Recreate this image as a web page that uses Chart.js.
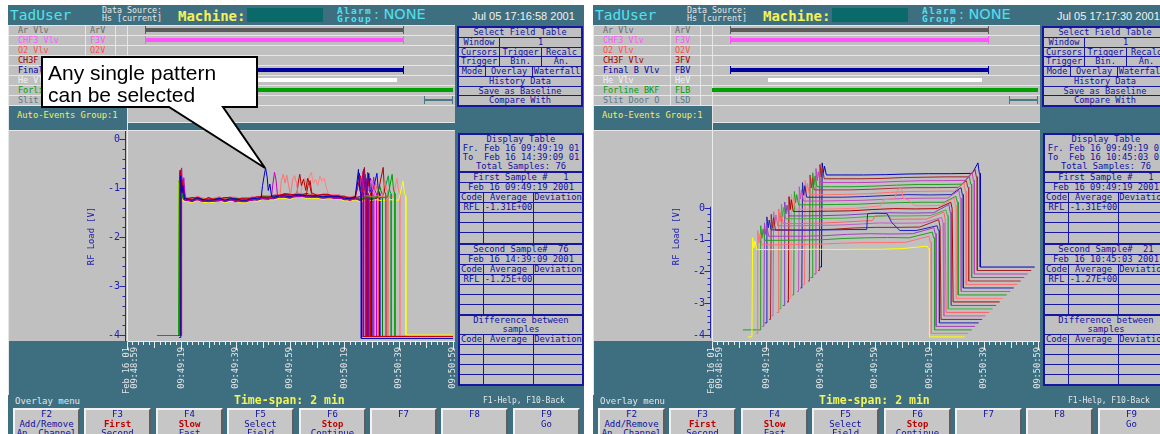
<!DOCTYPE html>
<html>
<head>
<meta charset="utf-8">
<title>RF Load – overlay and waterfall views</title>
<script src="https://cdn.jsdelivr.net/npm/chart.js@4.4.1/dist/chart.umd.min.js"></script>
<style>
  html, body { margin:0; padding:0; background:#ffffff; }
  body { position:relative; width:1160px; height:434px; overflow:hidden; }
  .panel { position:absolute; top:5px; width:576px; height:429px; background:#3e6f80; overflow:hidden;
           font-family:"DejaVu Sans Mono", monospace; }
  .a { position:absolute; white-space:pre; line-height:1; }
  .ln { position:absolute; background:#e6e6e6; }
  .chan { position:absolute; left:1px; width:446px; height:10px; background:#c0c0c0;
          border-top:1px solid #e6e6e6; box-sizing:border-box; }
  .chan span { position:absolute; top:0; font-size:8.5px; line-height:9px; white-space:pre; }
  .bar { position:absolute; }
  .tbl { position:absolute; background:#c0c0c0; border:2px solid #1616a0; box-sizing:border-box;
         color:#1212a0; font-size:8.8px; display:flex; flex-direction:column; }
  .r { display:flex; flex:1 1 0; border-top:1px solid #1616a0; min-height:0; }
  .r:first-child, .r.nb { border-top:none; }
  .r.sec { border-top:2px solid #1616a0; }
  .c { flex:none; border-left:1px solid #1616a0; white-space:pre; overflow:hidden;
       display:flex; align-items:center; justify-content:center; line-height:1; }
  .c:first-child { border-left:none; }
  .c.f { flex:1 1 0; }
  .btn { position:absolute; top:403px; width:67px; height:30px; background:#c6c6c6; box-sizing:border-box;
         border-top:2px solid #f2f2f2; border-left:2px solid #f2f2f2; border-right:2px solid #5e5e5e;
         border-bottom:2px solid #5e5e5e; text-align:center; font-size:9px; line-height:9.6px;
         color:#1010a0; white-space:pre; padding-top:0; }
  .btn b { color:#c00000; }
  canvas { position:absolute; }
</style>
</head>
<body>
<div id="root"></div>
<svg style="position:absolute;left:0;top:0" width="1160" height="434">
  <path d="M42 57 H257 V107 H223 L265 168 L169 107 H42 Z" fill="#ffffff" stroke="#000000" stroke-width="2" stroke-linejoin="miter"/>
  <text x="48" y="80" font-family="Liberation Sans, Arial, sans-serif" font-size="21" fill="#000">Any single pattern</text>
  <text x="48" y="102" font-family="Liberation Sans, Arial, sans-serif" font-size="21" fill="#000">can be selected</text>
</svg>
<script>
// ---------- axes ----------
const xTickValues = [0, 20, 40, 60, 80, 100, 120];   // seconds after 09:48:59
const xTickLabels = [["Feb 16 01", "09:48:59"], "09:49:19", "09:49:39", "09:49:59", "09:50:19", "09:50:39", "09:50:59"];
const yTickValues = [0, -1, -2, -3, -4];
const yTickLabels = ["0", "-1", "-2", "-3", "-4"];

// ---------- overlay view: RF load traces ----------
const overlayColors = ['#0000c8','#c80000','#00a000','#c000c0','#ff7070','#a00040','#8000a0','#0000a0',
                       '#c00060','#008000','#e060e0','#b00000','#ffff00','#2040ff','#ff5050','#a040c0',
                       '#d00000','#00a040','#8000c0','#ff8080','#0000ff','#900030','#c000c0','#0000c0'];
const overlayStart    = [19.2,18.9,11.0,19.5,19.0,19.1,19.3,18.8,19.4,18.7,19.2,19.0,18.4,19.1,19.5,18.9,19.3,18.8,19.2,18.6,19.4,19.0,19.1,19.3];
const overlayRise     = [19.6,19.3,19.0,19.9,19.4,19.5,19.7,19.2,19.8,19.1,19.6,19.4,18.8,19.5,19.9,19.3,19.7,19.2,19.6,19.0,19.8,19.4,19.5,19.7];
const overlayRisePeak = [-0.75,-0.68,-0.85,-0.59,-0.80,-0.70,-0.66,-0.78,-0.72,-0.90,-0.74,-0.63,-0.88,-0.70,-0.82,-0.64,-0.70,-0.86,-0.70,-0.90,-0.76,-0.67,-0.74,-0.80];
const overlayLevel    = [0.00,0.02,0.01,-0.02,0.03,0.00,-0.03,0.02,0.01,-0.01,0.03,-0.02,-0.05,0.00,0.02,-0.01,0.01,0.00,-0.02,0.02,0.01,-0.01,0.00,0.01];
const overlayFall     = [86.2,87.0,98.6,87.6,96.0,88.4,89.0,90.0,87.9,94.0,91.0,95.3,102.6,88.7,92.5,86.8,89.6,97.2,90.6,100.4,93.0,88.1,91.8,86.5];
const overlayFallPeak = [-0.62,-0.75,-0.72,-0.80,-0.85,-0.58,-0.80,-0.70,-0.66,-0.95,-0.82,-0.58,-0.86,-0.72,-0.90,-0.76,-0.68,-0.75,-0.80,-0.80,-0.70,-0.62,-0.78,-0.70];
const overlayLow      = [-4.07,-4.03,-4.03,-4.03,-4.03,-4.03,-4.03,-4.03,-4.03,-4.03,-4.03,-4.03,-4.00,-4.03,-4.03,-4.03,-4.03,-4.03,-4.03,-4.03,-4.03,-4.03,-4.03,-4.03];
const overlayTexture  = [0,1,0,1,0,1,0,1,0,1,0,1,0,1,0,1,0,1,0,1,0,1,0,1];

// shared plateau level of the RF load while the plasma is on
const plateauT = [22,24,26,28,30,32,34,36,38,40,42,44,46,48,50,52,54,56,58,60,62,64,66,68,70,72,74,76,78,80,82,84,86,88,90,92,94,96,98,100,102];
const plateauV = [-1.23,-1.24,-1.22,-1.24,-1.23,-1.25,-1.23,-1.24,-1.22,-1.24,-1.23,-1.25,-1.22,-1.21,-1.20,-1.19,-1.18,-1.17,-1.16,-1.16,-1.15,
                  -1.16,-1.15,-1.16,-1.17,-1.16,-1.17,-1.18,-1.19,-1.20,-1.21,-1.20,-1.21,-1.20,-1.20,-1.21,-1.20,-1.19,-1.20,-1.19,-1.20];
const textureA = [0.01,-0.01,0.02,0,-0.02,0.01,0.02,-0.01,0,0.02,-0.02,0,0.01,-0.01,0.02,0,-0.01,0.01,0,-0.02,0.01,
                  0.02,-0.01,0,0.01,-0.02,0,0.01,0.02,-0.01,0,0.01,-0.02,0.01,0,0.02,-0.01,0,0.01,-0.01,0];
const textureB = [-0.01,0.02,0,-0.02,0.01,0,-0.01,0.02,0.01,-0.02,0,0.02,-0.01,0.01,0,-0.02,0.01,0,0.02,0.01,-0.01,
                  0,0.02,-0.01,0,0.01,0.02,-0.01,0,0.01,-0.02,0,0.01,0,-0.01,0.02,0,-0.02,0.01,0,0.01];

// excursions on individual samples
const bumpBlue    = [[49.4,-1.19],[49.9,-0.95],[50.4,-0.78],[51.0,-0.59],[51.6,-0.78],[52.0,-1.05],[52.6,-0.92],[53.2,-1.17]];
const bumpRedA    = [[66.0,-1.15],[66.6,-0.95],[67.4,-0.85],[68.0,-1.10]];
const bumpMagenta = [[53.2,-1.18],[53.7,-0.92],[54.3,-0.68],[54.9,-0.85],[55.4,-1.16]];
const bumpSalmonA = [[56.3,-1.17],[56.8,-0.85],[57.5,-0.72],[58.2,-0.90],[58.8,-0.74],[59.5,-0.95],[60.2,-1.15],[61.0,-0.82],[61.7,-0.75],[62.4,-0.90],[63.0,-1.14]];
const bumpRedB    = [[62.5,-1.15],[63.0,-0.90],[63.6,-0.72],[64.2,-0.95],[65.0,-0.82],[65.8,-1.05],[66.5,-0.80],[67.2,-0.92],[68.0,-1.14]];
const bumpSalmonB = [[64.0,-1.15],[64.6,-0.85],[65.4,-0.80],[66.2,-0.95],[67.0,-0.78],[67.8,-0.68],[68.6,-0.90],[69.4,-0.82],[70.2,-0.95],[71.0,-0.76],[71.8,-0.86],[72.6,-0.80],[73.4,-1.00],[74.2,-1.13]];
const overlayBumps = { 0: bumpBlue, 1: bumpRedA, 3: bumpMagenta, 4: bumpSalmonA, 11: bumpRedB, 19: bumpSalmonB };

// ---------- waterfall view: samples 1..21, front to back ----------
const waterfallColors = ['#ffff00','#ff7070','#20a020','#a040c0','#2020c0','#a02020','#c060c0','#ff6060','#40b040','#8040c0','#b00000',
                         '#ff8080','#20a020','#c050c0','#2020b0','#ff7070','#b03030','#20a020','#c040c0','#a02020','#0000c0'];
const waterfallStart    = [13.2,15.0,8.8,14.7,14.3,14.6,14.2,14.8,14.5,14.4,14.7,14.3,14.1,14.6,14.5,14.2,14.7,14.4,14.3,14.5,14.0];
const waterfallRise     = [14.7,15.3,15.1,15.2,14.8,15.1,14.7,15.3,15.0,14.9,15.2,14.8,14.6,15.1,15.0,14.7,15.2,14.9,14.8,15.0,14.5];
const waterfallRisePeak = [-0.94,-0.82,-0.78,-0.80,-0.72,-0.75,-0.78,-0.80,-0.76,-0.80,-0.74,-0.77,-0.80,-0.76,-0.74,-0.78,-0.72,-0.76,-0.74,-0.72,-0.78];
const waterfallFall     = [80.0,79.4,79.3,78.6,78.5,77.8,77.6,77.1,76.6,76.4,75.8,75.7,75.1,74.9,74.4,74.2,73.8,73.6,73.3,73.1,72.9];
const waterfallFallPeak = [-1.20,-1.00,-0.98,-0.95,-1.00,-0.92,-0.96,-0.90,-0.94,-0.88,-0.92,-0.90,-0.95,-0.88,-0.90,-0.86,-0.90,-0.88,-0.85,-0.88,-0.78];
const waterfallEnd = 93;
const waterfallLow = -4.06;
const waterfallPlateauT = [22, 30, 38, 46, 54, 62, 70];
const waterfallPlateau = [
  [-1.31,-1.31,-1.30,-1.31,-1.30,-1.30,-1.28],
  [-1.27,-1.26,-1.25,-1.22,-1.20,-1.20,-1.19],
  [-1.24,-1.23,-1.22,-1.18,-1.16,-1.15,-1.16],
  [-1.22,-1.22,-1.20,-1.16,-1.14,-1.15,-1.14],
  [-1.13,-1.14,-1.13,-1.12,-1.14,-1.16,-1.15],
  [-1.25,-1.24,-1.22,-1.18,-1.16,-1.16,-1.15],
  [-1.22,-1.21,-1.20,-1.17,-1.13,-1.14,-1.13],
  [-1.26,-1.25,-1.22,-1.18,-1.14,-1.12,-1.12],
  [-1.22,-1.21,-1.20,-1.16,-1.13,-1.13,-1.12],
  [-1.24,-1.23,-1.21,-1.17,-1.14,-1.15,-1.14],
  [-1.21,-1.20,-1.19,-1.15,-1.12,-1.13,-1.12],
  [-1.25,-1.24,-1.22,-1.16,-1.12,-1.14,-1.13],
  [-1.22,-1.21,-1.20,-1.17,-1.15,-1.14,-1.14],
  [-1.21,-1.20,-1.19,-1.16,-1.13,-1.12,-1.12],
  [-1.20,-1.20,-1.18,-1.15,-1.12,-1.13,-1.12],
  [-1.23,-1.22,-1.20,-1.16,-1.13,-1.12,-1.12],
  [-1.19,-1.19,-1.17,-1.14,-1.12,-1.12,-1.11],
  [-1.20,-1.20,-1.18,-1.15,-1.13,-1.13,-1.12],
  [-1.18,-1.18,-1.17,-1.14,-1.12,-1.12,-1.11],
  [-1.17,-1.17,-1.16,-1.13,-1.12,-1.11,-1.11],
  [-1.16,-1.16,-1.15,-1.13,-1.12,-1.12,-1.11]
];
const wfBumpBlue    = [[51.8,-1.12],[52.1,-0.62],[55.0,-0.60],[59.3,-0.62],[61.0,-0.90],[64.0,-1.15]];
const wfBumpSalmonA = [[50.0,-1.17],[51.0,-1.02],[56.0,-1.00],[57.0,-1.13]];
const wfBumpSalmonB = [[48.0,-1.14],[49.0,-0.95],[53.0,-0.92],[54.2,-0.62],[55.5,-0.60],[56.2,-0.90],[58.0,-0.95],[60.0,-1.12]];
const waterfallBumps = { 4: wfBumpBlue, 7: wfBumpSalmonA, 11: wfBumpSalmonB };
// per-sample display shift of the waterfall (time, volts)
const WATERFALL_DX = 1.29;
const WATERFALL_DY = 0.11;

// ---------- screen text ----------
const channelNames  = ['Ar Vlv','CHF3 Vlv','O2 Vlv','CH3F Vlv','Final B Vlv','He Vlv','Forline BKF','Slit Door O'];
const channelCodes  = ['ArV','F3V','O2V','3FV','FBV','HeV','FLB','LSD'];
const channelColors = ['#686868','#ff55ff','#ff5050','#a00000','#0000a0','#f2f2f2','#00a000','#587888'];

const panels = [
  { left: 8, canvasId: 'overlayChart', date: 'Jul 05 17:16:58 2001',
    from: 'Fr. Feb 16 09:49:19 01', to: 'To  Feb 16 14:39:09 01', total: 'Total Samples: 76',
    first: 'First Sample #   1', firstDate: 'Feb 16 09:49:19 2001', firstAvg: '-1.31E+00',
    second: 'Second Sample#  76', secondDate: 'Feb 16 14:39:09 2001', secondAvg: '-1.25E+00' },
  { left: 593, canvasId: 'waterfallChart', date: 'Jul 05 17:17:30 2001',
    from: 'Fr. Feb 16 09:49:19 01', to: 'To  Feb 16 10:45:03 01', total: 'Total Samples: 76',
    first: 'First Sample #   1', firstDate: 'Feb 16 09:49:19 2001', firstAvg: '-1.31E+00',
    second: 'Second Sample#  21', secondDate: 'Feb 16 10:45:03 2001', secondAvg: '-1.27E+00' }
];

const buttons = [
  ['F2', 'Add/Remove', 'An. Channel'], ['F3', '<b>First</b>', 'Second'], ['F4', '<b>Slow</b>', 'Fast'],
  ['F5', 'Select', 'Field'], ['F6', '<b>Stop</b>', 'Continue'], ['F7'], ['F8'], ['F9', 'Go']
];

// ---------- screen layout ----------
function channelBarsHTML() {
  const rowTop = i => 20 + 10 * i;
  const b = (i, x0, x1, color, h, ticks) => {
    let s = `<div class="bar" style="left:${x0}px;top:${rowTop(i) + 5 - h / 2}px;width:${x1 - x0}px;height:${h}px;background:${color}"></div>`;
    ticks.forEach(tx => { s += `<div class="bar" style="left:${tx}px;top:${rowTop(i) + 1}px;width:1px;height:8px;background:${color}"></div>`; });
    return s;
  };
  return b(0, 137, 396, '#5a5a5a', 4, [137, 395]) +
         b(1, 137, 396, '#ff55ff', 4, [137, 395]) +
         b(4, 137, 396, '#0000a0', 4, [137, 395]) +
         b(5, 175, 389, '#ffffff', 4, []) +
         b(6, 119, 445, '#00a000', 4, []) +
         b(7, 416, 445, '#4a7888', 2, [416, 444]);
}

function selectTableHTML() {
  const cell = (w, t) => w ? `<div class="c" style="width:${w}px">${t}</div>` : `<div class="c f">${t}</div>`;
  return `<div class="tbl" style="left:449px;top:21px;width:126px;height:81px;font-size:8.6px">
    <div class="r">${cell(0, 'Select Field Table')}</div>
    <div class="r">${cell(40, 'Window')}${cell(0, '1')}</div>
    <div class="r">${cell(40, 'Cursors')}${cell(41, 'Trigger')}${cell(0, 'Recalc')}</div>
    <div class="r">${cell(40, 'Trigger')}${cell(41, 'Bin.')}${cell(0, 'An.')}</div>
    <div class="r">${cell(26, 'Mode')}${cell(46, 'Overlay')}${cell(0, 'Waterfall')}</div>
    <div class="r">${cell(0, 'History Data')}</div>
    <div class="r">${cell(0, 'Save as Baseline')}</div>
    <div class="r">${cell(0, 'Compare With')}</div>
  </div>`;
}

function displayTableHTML(p) {
  const full = (cls, t) => `<div class="r ${cls}"><div class="c f">${t}</div></div>`;
  const three = (cls, a, b, c) => `<div class="r ${cls}"><div class="c" style="width:23px">${a}</div><div class="c" style="width:49px">${b}</div><div class="c f">${c}</div></div>`;
  const empties = n => Array.from({ length: n }, () => three('', '', '', '')).join('');
  return `<div class="tbl" style="left:450px;top:128px;width:126px;height:253px">
    ${full('', 'Display Table')}${full('nb', p.from)}${full('nb', p.to)}${full('nb', p.total)}
    ${full('sec', p.first)}${full('', p.firstDate)}${three('', 'Code', 'Average', 'Deviation')}${three('', 'RFL', p.firstAvg, '')}${empties(3)}
    ${full('sec', p.second)}${full('', p.secondDate)}${three('', 'Code', 'Average', 'Deviation')}${three('', 'RFL', p.secondAvg, '')}${empties(3)}
    ${full('sec', 'Difference between')}${full('nb', 'samples')}${three('', 'Code', 'Average', 'Deviation')}${empties(4)}
  </div>`;
}

function panelHTML(p) {
  let h = `<div class="panel" style="left:${p.left}px">`;
  // header
  h += `<div class="a" style="left:2px;top:3px;font-size:14.5px;color:#4fe4ee">TadUser</div>`;
  h += `<div class="a" style="left:94px;top:2px;font-size:8.3px;line-height:7.5px;color:#e8e8e8">Data Source:\nHs [current]</div>`;
  h += `<div class="a" style="left:170px;top:4px;font-size:14px;font-weight:bold;color:#f2f25a">Machine:</div>`;
  h += `<div class="a" style="left:239px;top:3px;width:76px;height:14px;background:#0a6a6a"></div>`;
  h += `<div class="a" style="left:329px;top:2px;font-size:9.5px;font-weight:bold;line-height:7.5px;letter-spacing:1.3px;color:#50e0f0">Alarm\nGroup</div>`;
  h += `<div class="a" style="left:366px;top:2px;font-family:'DejaVu Sans',sans-serif;font-size:14.5px;color:#50e0f0">: NONE</div>`;
  h += `<div class="a" style="left:464px;top:6px;font-family:'Liberation Sans',sans-serif;font-size:11px;color:#f2f2f2">${p.date}</div>`;
  // channel rows
  channelNames.forEach((n, i) => {
    h += `<div class="chan" style="top:${20 + 10 * i}px"><span style="left:9px;color:${channelColors[i]}">${n}</span><span style="left:81px;color:${channelColors[i]}">${channelCodes[i]}</span></div>`;
  });
  h += `<div class="ln" style="left:1px;top:100px;width:446px;height:1px"></div>`;
  [77, 107, 119].forEach(x => { h += `<div class="ln" style="left:${x}px;top:20px;width:1px;height:81px"></div>`; });
  h += channelBarsHTML();
  // event strip
  h += `<div class="a" style="left:9px;top:106px;font-size:8.8px;color:#f0f060">Auto-Events Group:1</div>`;
  h += `<div class="a" style="left:120px;top:101px;width:327px;height:16px;background:#c0c0c0"></div>`;
  h += `<div class="ln" style="left:120px;top:117px;width:327px;height:1px"></div>`;
  h += `<div class="ln" style="left:119px;top:101px;width:1px;height:25px"></div>`;
  // plot background and frame
  h += `<div class="a" style="left:1px;top:126px;width:446px;height:210px;background:#c0c0c0"></div>`;
  h += `<div class="ln" style="left:1px;top:125px;width:446px;height:1px"></div>`;
  h += `<div class="ln" style="left:0px;top:20px;width:1px;height:370px"></div>`;
  h += `<canvas id="${p.canvasId}" width="375" height="264" style="left:77px;top:126px"></canvas>`;
  // side tables
  h += selectTableHTML() + displayTableHTML(p);
  // status line
  h += `<div class="a" style="left:7px;top:392px;font-size:9px;color:#e6e6e6">Overlay menu</div>`;
  h += `<div class="a" style="left:226px;top:390px;font-size:11.5px;font-weight:bold;color:#f2f25a">Time-span: 2 min</div>`;
  h += `<div class="a" style="left:475px;top:392px;font-size:8px;color:#e6e6e6">F1-Help, F10-Back</div>`;
  // function keys
  buttons.forEach((b, i) => {
    const left = 5 + Math.round(i * 71.4);
    h += `<div class="btn" style="left:${left}px">${b.join('\n')}</div>`;
  });
  h += `</div>`;
  return h;
}

document.getElementById('root').innerHTML = panels.map(panelHTML).join('');

// ---------- traces ----------
function overlayTrace(i) {
  const rise = overlayRise[i], fall = overlayFall[i], lvl = overlayLevel[i];
  const tex = overlayTexture[i] === 0 ? textureA : textureB;
  const bump = overlayBumps[i] || [];
  const pts = [
    { x: overlayStart[i], y: overlayLow[i] + 0.02 }, { x: rise, y: overlayLow[i] + 0.02 },
    { x: rise + 0.2, y: overlayRisePeak[i] }, { x: rise + 0.6, y: -1.10 + lvl },
    { x: rise + 1.0, y: overlayRisePeak[i] - 0.2 }, { x: rise + 1.6, y: -1.22 + lvl }
  ];
  const body = [];
  plateauT.forEach((t, j) => {
    if (t <= rise + 2 || t >= fall - 1.5) return;
    if (bump.length && t >= bump[0][0] && t <= bump[bump.length - 1][0]) return;
    body.push({ x: t, y: plateauV[j] + tex[j] + lvl });
  });
  bump.forEach(([t, v]) => body.push({ x: t, y: v }));
  body.sort((a, b) => a.x - b.x);
  return pts.concat(body, [
    { x: fall - 1.0, y: overlayFallPeak[i] }, { x: fall - 0.5, y: -1.05 + lvl }, { x: fall, y: -1.12 + lvl },
    { x: fall + 0.05, y: overlayLow[i] }, { x: 120, y: overlayLow[i] }
  ]);
}

function waterfallTrace(k) {
  const rise = waterfallRise[k], fall = waterfallFall[k], lv = waterfallPlateau[k];
  const bump = waterfallBumps[k] || [];
  const raw = [
    { x: waterfallStart[k], y: waterfallLow }, { x: rise, y: waterfallLow },
    { x: rise + 0.25, y: waterfallRisePeak[k] }, { x: rise + 0.7, y: lv[0] + 0.06 },
    { x: rise + 1.1, y: waterfallRisePeak[k] - 0.1 }, { x: rise + 1.8, y: lv[0] }
  ];
  const body = [];
  waterfallPlateauT.forEach((t, j) => {
    if (t >= fall - 1.5) return;
    if (bump.length && t >= bump[0][0] && t <= bump[bump.length - 1][0]) return;
    body.push({ x: t, y: lv[j] });
  });
  bump.forEach(([t, v]) => body.push({ x: t, y: v }));
  body.sort((a, b) => a.x - b.x);
  const all = raw.concat(body, [
    { x: fall - 0.8, y: waterfallFallPeak[k] }, { x: fall - 0.3, y: lv[lv.length - 1] },
    { x: fall, y: lv[lv.length - 1] }, { x: fall + 0.05, y: waterfallLow }, { x: waterfallEnd, y: waterfallLow }
  ]);
  return all.map(p => ({ x: p.x + k * WATERFALL_DX, y: p.y + k * WATERFALL_DY }));
}

// ---------- axis decoration ----------
const axisDecor = {
  id: 'axisDecor',
  afterDraw(chart, args, opts) {
    const { ctx, chartArea: a, scales: { x, y } } = chart;
    ctx.save();
    ctx.lineWidth = 1;
    ctx.strokeStyle = '#ececec';
    ctx.beginPath();
    ctx.moveTo(a.left + 0.5, a.top);
    ctx.lineTo(a.left + 0.5, a.bottom + 0.5);
    ctx.lineTo(a.right + 2, a.bottom + 0.5);
    ctx.stroke();
    ctx.beginPath();
    for (let t = 0; t <= 120; t += 2) {
      const px = Math.round(x.getPixelForValue(t)) + 0.5;
      const len = t % 20 === 0 ? 8 : (t % 10 === 0 ? 6 : 3);
      ctx.moveTo(px, a.bottom + 1);
      ctx.lineTo(px, a.bottom + 1 + len);
    }
    ctx.stroke();
    ctx.strokeStyle = '#2626b0';
    const ax = a.left - 1.5;
    ctx.beginPath();
    ctx.moveTo(ax, y.getPixelForValue(opts.yTop));
    ctx.lineTo(ax, y.getPixelForValue(opts.yBottom));
    for (let n = 0; n <= 20; n++) {
      const v = -n * 0.2;
      const py = Math.round(y.getPixelForValue(v)) + 0.5;
      const len = n % 5 === 0 ? 6 : 3;
      ctx.moveTo(ax, py);
      ctx.lineTo(ax - len, py);
    }
    ctx.stroke();
    ctx.restore();
  }
};

function makeChart(id, datasets, yMin, yMax, yTop, yBottom) {
  return new Chart(document.getElementById(id), {
    type: 'line',
    data: { datasets },
    options: {
      responsive: false, animation: false, devicePixelRatio: 1, parsing: false,
      layout: { padding: { left: 0, right: 7, top: 0, bottom: 0 } },
      elements: { point: { radius: 0 }, line: { borderWidth: 1, tension: 0 } },
      plugins: { legend: { display: false }, tooltip: { enabled: false }, axisDecor: { yTop, yBottom } },
      scales: {
        x: {
          type: 'linear', min: 0, max: 120,
          afterBuildTicks: s => { s.ticks = xTickValues.map(v => ({ value: v })); },
          afterFit: s => { s.height = 54; s.paddingLeft = 0; s.paddingRight = 0; },
          grid: { display: false, drawTicks: false }, border: { display: false },
          ticks: { autoSkip: false, minRotation: 90, maxRotation: 90, padding: 6, color: '#e4e4e4',
                   font: { family: 'DejaVu Sans Mono', size: 8.7, lineHeight: 0.85 },
                   callback: (v, i) => xTickLabels[i] }
        },
        y: {
          type: 'linear', min: yMin, max: yMax,
          afterBuildTicks: s => { s.ticks = yTickValues.map(v => ({ value: v })); },
          afterFit: s => { s.width = 42; s.paddingTop = 0; s.paddingBottom = 0; },
          grid: { display: false, drawTicks: false }, border: { display: false },
          ticks: { autoSkip: false, padding: 7, color: '#2020b0', font: { family: 'DejaVu Sans Mono', size: 10 },
                   callback: (v, i) => yTickLabels[i] },
          title: { display: true, text: 'RF Load [V]', color: '#2020b0',
                   font: { family: 'DejaVu Sans Mono', size: 8.8 }, padding: { top: 1, bottom: 0 } }
        }
      }
    },
    plugins: [axisDecor]
  });
}

const overlaySets = overlayColors.map((c, i) => ({ data: overlayTrace(i), borderColor: c, borderWidth: 1, pointRadius: 0 }));
makeChart('overlayChart', overlaySets, -4.122, 0.163, 0.163, -4.122);

const waterfallSets = waterfallColors.map((c, k) => ({ data: waterfallTrace(k), borderColor: c, borderWidth: 1, pointRadius: 0, order: k }));
makeChart('waterfallChart', waterfallSets, -4.19, 2.425, 0.04, -4.1);
</script>
</body>
</html>
